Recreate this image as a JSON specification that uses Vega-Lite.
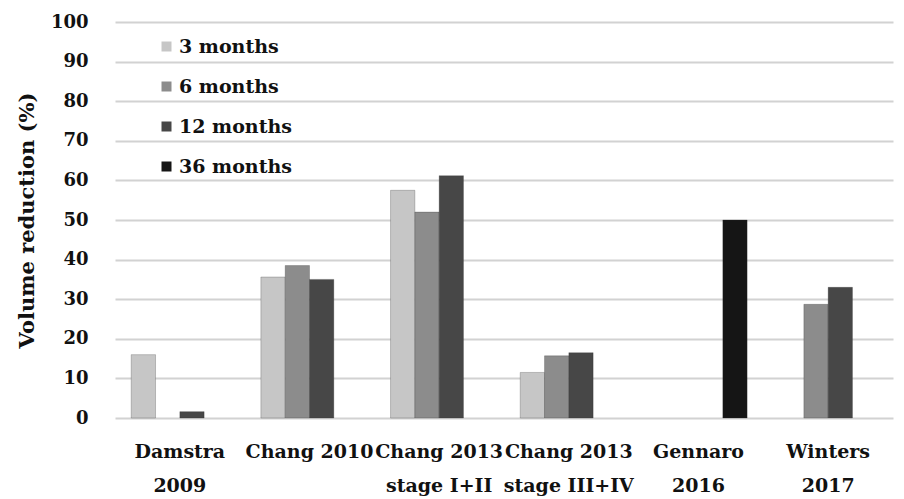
{
  "$schema": "https://vega.github.io/schema/vega-lite/v6.json",
  "width": 778,
  "height": 396,
  "autosize": {"type": "none"},
  "padding": {"left": 115, "top": 22, "right": 11, "bottom": 81},
  "background": "white",
  "config": {
    "view": {"stroke": null},
    "font": "DejaVu Serif"
  },
  "data": {
    "values": [
      {"study": "Damstra\n2009", "period": "3 months", "value": 16},
      {"study": "Damstra\n2009", "period": "12 months", "value": 1.6},
      {"study": "Chang 2010", "period": "3 months", "value": 35.6},
      {"study": "Chang 2010", "period": "6 months", "value": 38.5},
      {"study": "Chang 2010", "period": "12 months", "value": 35},
      {"study": "Chang 2013\nstage I+II", "period": "3 months", "value": 57.5},
      {"study": "Chang 2013\nstage I+II", "period": "6 months", "value": 52},
      {"study": "Chang 2013\nstage I+II", "period": "12 months", "value": 61.2},
      {"study": "Chang 2013\nstage III+IV", "period": "3 months", "value": 11.5},
      {"study": "Chang 2013\nstage III+IV", "period": "6 months", "value": 15.7},
      {"study": "Chang 2013\nstage III+IV", "period": "12 months", "value": 16.5},
      {"study": "Gennaro\n2016", "period": "36 months", "value": 50},
      {"study": "Winters\n2017", "period": "6 months", "value": 28.7},
      {"study": "Winters\n2017", "period": "12 months", "value": 33}
    ]
  },
  "mark": {"type": "bar", "stroke": "#2a2a2a", "strokeOpacity": 0.25, "strokeWidth": 1},
  "encoding": {
    "x": {
      "field": "study",
      "type": "nominal",
      "sort": null,
      "title": null,
      "scale": {"paddingInner": 0.25, "paddingOuter": 0.125},
      "axis": {
        "labelAngle": 0,
        "labelExpr": "split(datum.label, '\\n')",
        "labelFont": "DejaVu Serif",
        "labelFontWeight": "bold",
        "labelFontSize": 19,
        "labelColor": "#111111",
        "labelLineHeight": 34,
        "labelPadding": 24,
        "labelBaseline": "top",
        "ticks": false,
        "domain": false,
        "labelLimit": 200
      }
    },
    "xOffset": {
      "field": "period",
      "type": "nominal",
      "scale": {"domain": ["3 months", "6 months", "12 months", "36 months"], "paddingInner": 0, "paddingOuter": 0}
    },
    "y": {
      "field": "value",
      "type": "quantitative",
      "title": "Volume reduction (%)",
      "scale": {"domain": [0, 100], "nice": false},
      "axis": {
        "values": [0, 10, 20, 30, 40, 50, 60, 70, 80, 90, 100],
        "grid": true,
        "gridColor": "#d2d2d2",
        "gridWidth": 2,
        "ticks": false,
        "domain": false,
        "labelFont": "DejaVu Serif",
        "labelFontWeight": "bold",
        "labelFontSize": 18,
        "labelColor": "#111111",
        "labelPadding": 27,
        "titleFont": "DejaVu Serif",
        "titleFontWeight": "bold",
        "titleFontSize": 21,
        "titleColor": "#111111",
        "titlePadding": 13
      }
    },
    "color": {
      "field": "period",
      "type": "nominal",
      "scale": {
        "domain": ["3 months", "6 months", "12 months", "36 months"],
        "range": ["#c6c6c6", "#8c8c8c", "#474747", "#151515"]
      },
      "legend": {
        "title": null,
        "orient": "none",
        "legendX": 42,
        "legendY": 15,
        "padding": 0,
        "symbolType": "square",
        "symbolSize": 100,
        "symbolStrokeWidth": 0,
        "labelFont": "DejaVu Serif",
        "labelFontWeight": "bold",
        "labelFontSize": 19,
        "labelColor": "#111111",
        "labelOffset": 3,
        "rowPadding": 20
      }
    }
  }
}
